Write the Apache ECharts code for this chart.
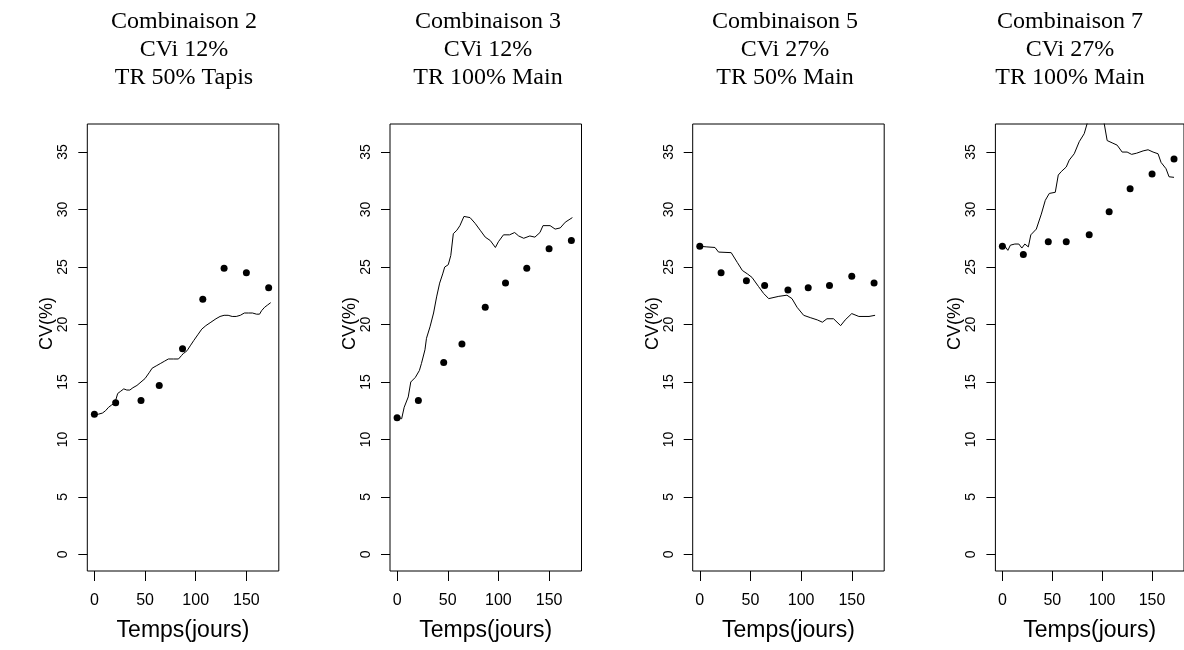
<!DOCTYPE html>
<html>
<head>
<meta charset="utf-8">
<script src="https://cdn.jsdelivr.net/npm/echarts@6.0.0/dist/echarts.min.js"></script>
<style>
html,body{margin:0;padding:0;background:#fff;}
#chart{width:1184px;height:650px;}
</style>
</head>
<body>
<div id="chart"></div>
<script>
// ---- Data ----
const panelTitles = [
  'Combinaison 2\nCVi 12%\nTR 50% Tapis',
  'Combinaison 3\nCVi 12%\nTR 100% Main',
  'Combinaison 5\nCVi 27%\nTR 50% Main',
  'Combinaison 7\nCVi 27%\nTR 100% Main'
];
const xTicks = [0, 50, 100, 150];
const yTicks = [0, 5, 10, 15, 20, 25, 30, 35];
const xAxisTitle = 'Temps(jours)';
const yAxisTitle = 'CV(%)';

// observed points (days, CV%)
const obsDays = [0, 21, 46, 64, 87, 107, 128, 150, 172];
const obs1 = [12.2, 13.2, 13.4, 14.7, 17.9, 22.2, 24.9, 24.5, 23.2];
const obs2 = [11.9, 13.4, 16.7, 18.3, 21.5, 23.6, 24.9, 26.6, 27.3];
const obs3 = [26.8, 24.5, 23.8, 23.4, 23.0, 23.2, 23.4, 24.2, 23.6];
const obs4 = [26.8, 26.1, 27.2, 27.2, 27.8, 29.8, 31.8, 33.1, 34.4];

// simulated curves
const sim1Days = [0,4,8,11,14,17,19,21,23,26,29,32,35,38,42,46,50,54,57,61,65,69,73,78,83,86,88,90,92,95,98,102,106,110,115,120,124,128,132,136,140,144,148,152,156,160,163,165,168,171,174];
const sim1 = [12.1,12.2,12.3,12.5,12.8,13.0,13.1,13.4,14.0,14.2,14.4,14.3,14.3,14.5,14.7,15.0,15.3,15.8,16.2,16.4,16.6,16.8,17.0,17.0,17.0,17.3,17.5,17.6,17.8,18.2,18.6,19.1,19.6,19.9,20.2,20.5,20.7,20.8,20.8,20.7,20.7,20.8,21.0,21.0,21.0,20.9,20.9,21.2,21.5,21.7,21.9];

const sim2Days = [0,4.5,7,11,13.5,18,22,24,27.5,29,32.5,36,39,42,45,47,50.5,53,55.5,59,62,66,72,77,82,87,92,97,100,105,111,116,120,125,131,136,141,144,151,156,161,166,173];
const sim2 = [12.0,11.8,12.8,13.7,15.0,15.4,16.0,16.6,17.8,18.8,19.8,21.0,22.4,23.6,24.4,25.0,25.2,26.0,27.9,28.2,28.6,29.4,29.3,28.8,28.2,27.6,27.3,26.7,27.2,27.8,27.8,28.0,27.7,27.5,27.7,27.6,28.0,28.6,28.6,28.3,28.4,28.9,29.3];

const sim3Days = [0,7,15,18.5,31,37,42,47,51.5,58,63,68,78,86,91,96,102.5,109,116,121,125.5,132,139,143.5,150,157,167,173];
const sim3 = [26.8,26.75,26.7,26.3,26.25,25.4,24.7,24.4,24.1,23.3,22.7,22.25,22.45,22.55,22.25,21.5,20.8,20.6,20.4,20.2,20.5,20.5,19.9,20.4,20.95,20.7,20.7,20.8];

const sim4Days = [0,3,5.5,8,12.5,16.5,19.5,22.5,26,28.5,34,39,43,47,53,56,59,64,67,72,77,82,85,90,95,100,102,105,110,115,120,125,129.5,134.5,141,146,151,156,159,164,167,172];
const sim4 = [26.8,26.75,26.45,26.9,27.0,27.0,26.65,27.0,26.75,27.8,28.3,29.6,30.8,31.4,31.5,33.0,33.3,33.7,34.3,34.85,35.9,36.6,37.5,38.6,39.0,38.2,37.5,36.0,35.8,35.6,35.0,35.0,34.8,34.9,35.1,35.2,35.0,34.85,34.1,33.55,32.85,32.8];

const simDays = [sim1Days, sim2Days, sim3Days, sim4Days];
const simVals = [sim1, sim2, sim3, sim4];
const obsVals = [obs1, obs2, obs3, obs4];

// ---- Layout ----
const gridLefts = [87.3, 390, 692.7, 995.4];
const gridW = 191.5, gridTop = 124, gridH = 447;
const titleCenters = [184, 488, 785, 1070];

const grids = [], xAxes = [], yAxes = [], series = [], titles = [];
for (let i = 0; i < 4; i++) {
  grids.push({left: gridLefts[i], top: gridTop, width: gridW, height: gridH,
    show: true, borderColor: '#000', borderWidth: 1, backgroundColor: '#fff', containLabel: false});
  titles.push({text: panelTitles[i], left: titleCenters[i], top: 8, padding: 0, textAlign: 'center',
    textStyle: {fontFamily: 'Liberation Serif', fontSize: 24, fontWeight: 'normal', color: '#000', lineHeight: 28}});
  xAxes.push({type: 'value', gridIndex: i, min: -7, max: 182,
    name: xAxisTitle, nameLocation: 'middle', nameGap: 48, nameMoveOverlap: false,
    nameTextStyle: {fontFamily: 'Liberation Sans', fontSize: 23, color: '#000'},
    axisLine: {show: false, onZero: false}, splitLine: {show: false},
    axisTick: {show: true, inside: false, length: 10, customValues: xTicks, lineStyle: {color: '#000', width: 1}},
    axisLabel: {show: true, customValues: xTicks, margin: 22, fontFamily: 'Liberation Sans', fontSize: 16, color: '#000',
      formatter: v => String(v)}
  });
  yAxes.push({type: 'value', gridIndex: i, min: -1.44, max: 37.44,
    name: yAxisTitle, nameLocation: 'middle', nameGap: 31, nameRotate: 90, nameMoveOverlap: false,
    nameTextStyle: {fontFamily: 'Liberation Sans', fontSize: 18, color: '#000', padding: [0, 0, 0, 48]},
    axisLine: {show: false, onZero: false}, splitLine: {show: false},
    axisTick: {show: true, inside: false, length: 9, customValues: yTicks, lineStyle: {color: '#000', width: 1}},
    axisLabel: {show: true, customValues: yTicks, rotate: 90, margin: 17, fontFamily: 'Liberation Sans', fontSize: 14, color: '#000',
      formatter: v => String(v)}
  });
  series.push({type: 'line', xAxisIndex: i, yAxisIndex: i, showSymbol: false, symbol: 'none',
    clip: true, lineStyle: {color: '#000', width: 1}, silent: true,
    data: simDays[i].map((d, k) => [d, simVals[i][k]])});
  series.push({type: 'scatter', xAxisIndex: i, yAxisIndex: i, symbol: 'circle', symbolSize: 7,
    itemStyle: {color: '#000', opacity: 1}, silent: true,
    data: obsDays.map((d, k) => [d, obsVals[i][k]])});
}

const chart = echarts.init(document.getElementById('chart'), null, {renderer: 'canvas'});
chart.setOption({
  backgroundColor: '#fff',
  animation: false,
  title: titles,
  grid: grids,
  xAxis: xAxes,
  yAxis: yAxes,
  series: series
});
</script>
</body>
</html>
